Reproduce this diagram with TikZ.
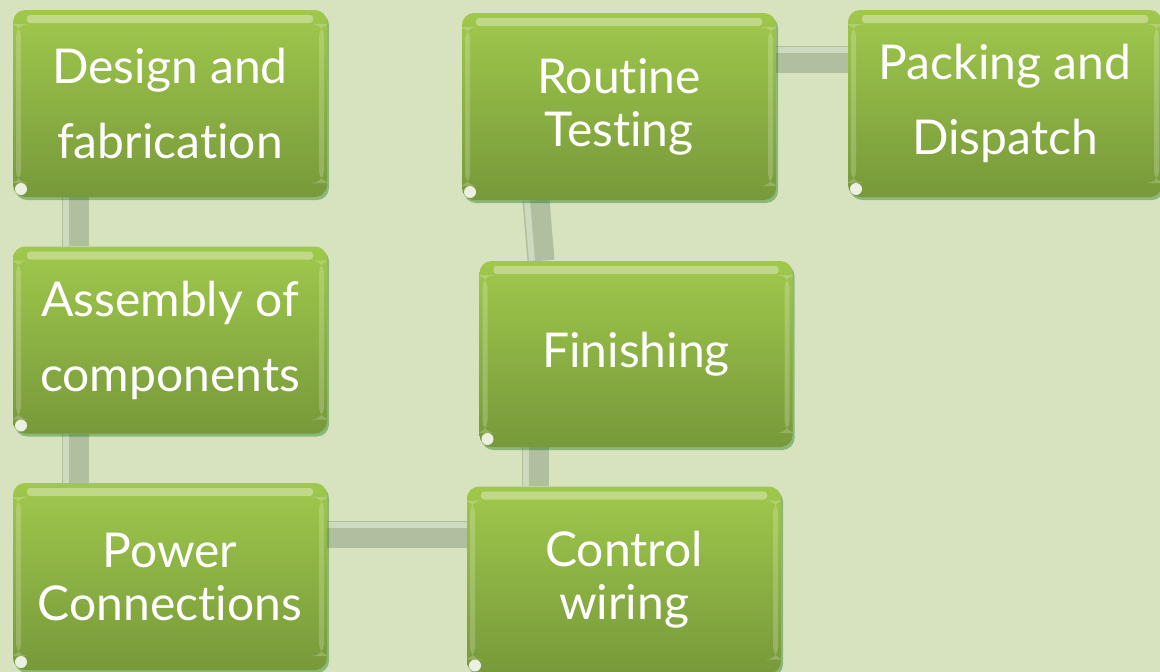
\documentclass[tikz,border=0pt]{standalone}
\usepackage{fontspec}
\setmainfont{Lato}[Ligatures=NoCommon]
\usetikzlibrary{shadows,backgrounds}
\definecolor{bgc}{HTML}{D7E3BE}
\definecolor{btop}{HTML}{A0C84C}
\definecolor{bbot}{HTML}{77993A}
\definecolor{connc}{HTML}{B0BF9D}
\definecolor{connl}{HTML}{CDDABD}
\tikzset{
  stepbox/.style={rounded corners=12pt, minimum width=314pt, minimum height=187pt,
    top color=btop, bottom color=bbot, draw=none, align=center, text=white,
    font=\fontsize{48}{75}\selectfont,
    drop shadow={shadow xshift=2pt, shadow yshift=-3pt, opacity=0.35, fill=black!60!green},
    path picture={
      \fill[white,opacity=0.35,rounded corners=3pt]
        ([xshift=14pt,yshift=-5pt]path picture bounding box.north west) rectangle
        ([xshift=-14pt,yshift=-13pt]path picture bounding box.north east);
      \fill[white,opacity=0.2]
        ([xshift=3pt,yshift=-14pt]path picture bounding box.north west) rectangle
        ([xshift=8pt,yshift=14pt]path picture bounding box.south west);
      \fill[white,opacity=0.2]
        ([xshift=-3pt,yshift=-14pt]path picture bounding box.north east) rectangle
        ([xshift=-8pt,yshift=14pt]path picture bounding box.south east);
      \fill[white,opacity=0.85]
        ([xshift=8pt,yshift=8pt]path picture bounding box.south west) circle (6pt);
    }},
  tight/.style={font=\fontsize{48}{53}\selectfont},
  conn/.style={line width=27pt, draw=connc},
  connhi/.style={line width=6pt, draw=connl},
}
\begin{document}
\begin{tikzpicture}[x=1pt,y=-1pt]
\useasboundingbox (0,0) rectangle (1160,672);
\node[stepbox] (design) at (170,103.5) {Design and\\fabrication};
\node[stepbox] (assembly) at (170,340) {Assembly of\\components};
\node[stepbox, tight] (power) at (170,576.5) {Power\\Connections};
\node[stepbox, tight] (control) at (624,580) {Control\\wiring};
\node[stepbox, minimum width=313pt, minimum height=186pt] (finishing) at (636,354) {Finishing};
\node[stepbox, tight] (routine) at (619,106.5) {Routine\\Testing};
\node[stepbox] (packing) at (1005,103.5) {Packing and\\Dispatch};
\begin{scope}[on background layer]
\fill[bgc] (0,0) rectangle (1160,672);
% connectors
\draw[conn] ([xshift=-95pt]design.south) -- ([xshift=-95pt]assembly.north);
\draw[conn] ([xshift=-95pt]assembly.south) -- ([xshift=-95pt]power.north);
\draw[conn] ([yshift=42.5pt]power.east) -- ([yshift=46pt]control.west);
\draw[conn] ([xshift=-89pt]control.north) -- ([xshift=-101pt]finishing.south);
\draw[conn] ([xshift=-95pt]finishing.north) -- ([xshift=-83pt]routine.south);
\draw[conn] ([yshift=47.5pt]routine.east) -- ([yshift=44.5pt]packing.west);
% highlights
\draw[connhi] ([xshift=-104pt]design.south) -- ([xshift=-104pt]assembly.north);
\draw[connhi] ([xshift=-104pt]assembly.south) -- ([xshift=-104pt]power.north);
\draw[connhi] ([yshift=52pt]power.east) -- ([yshift=55.5pt]control.west);
\draw[connhi] ([xshift=-98pt]control.north) -- ([xshift=-110pt]finishing.south);
\draw[connhi] ([xshift=-104pt]finishing.north) -- ([xshift=-92pt]routine.south);
\draw[connhi] ([yshift=57pt]routine.east) -- ([yshift=54pt]packing.west);
\end{scope}
\end{tikzpicture}
\end{document}
